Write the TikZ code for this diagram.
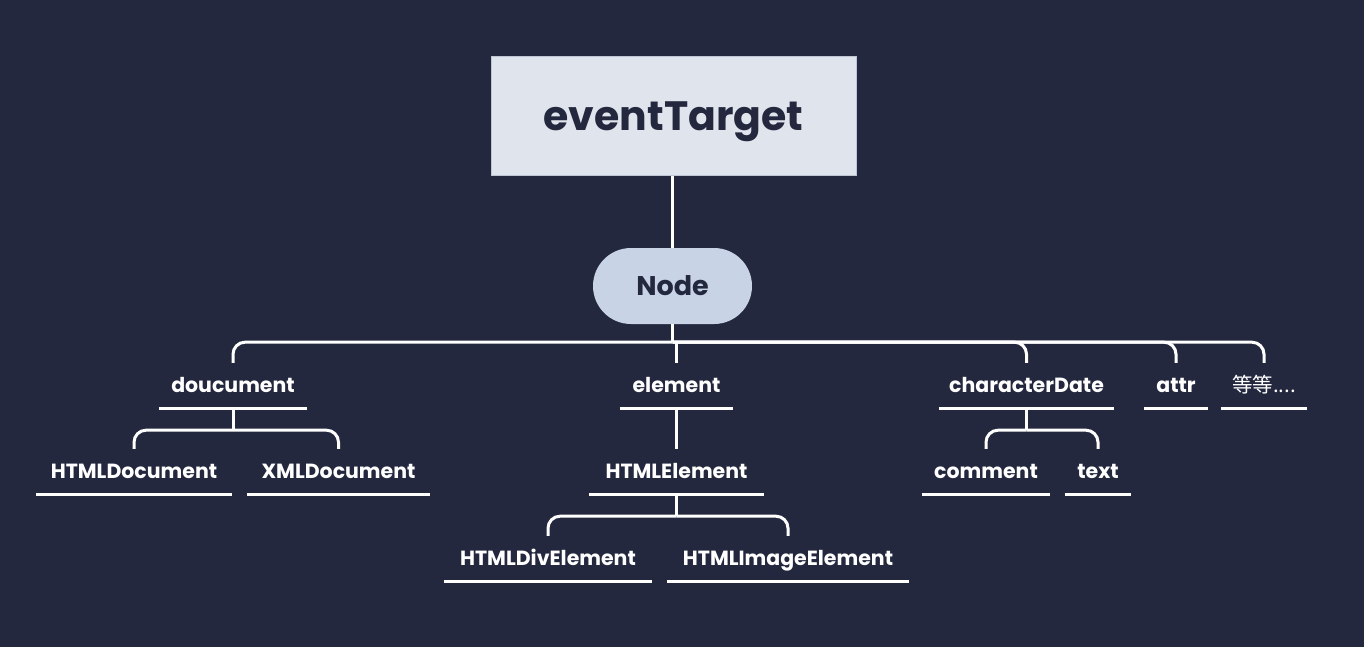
\documentclass[tikz,border=0pt]{standalone}
\usepackage{fontspec}
\setmainfont{Poppins}
\newfontfamily\cjk{Noto Sans CJK SC}
\definecolor{bg}{RGB}{35,40,62}
\definecolor{boxfill}{RGB}{224,229,237}
\definecolor{boxline}{RGB}{190,198,212}
\definecolor{pillfill}{RGB}{200,212,229}
\definecolor{ink}{RGB}{35,40,62}
\begin{document}
\begin{tikzpicture}[x=1pt,y=-1pt,
  conn/.style={draw=white,line width=3pt},
  bus/.style={draw=white,line width=3pt,rounded corners=12pt},
  lbl/.style={text=white,font=\fontsize{20.5}{24}\selectfont\bfseries,minimum height=45pt,inner sep=0pt,
     text height=16pt,text depth=2pt,
     append after command={\pgfextra{\draw[white,line width=3pt] (\tikzlastnode.south west) -- (\tikzlastnode.south east);}}},
]
\fill[bg] (0,0) rectangle (1364,647);
\useasboundingbox (0,0) rectangle (1364,647);

\node[fill=boxfill,draw=boxline,line width=1pt,minimum width=365pt,minimum height=119pt,inner sep=0pt,
  text height=29pt,text depth=0pt,
  text=ink,font=\fontsize{41}{48}\selectfont\bfseries] (et) at (673.5,116.5) {eventTarget};
\node[fill=pillfill,rounded corners=38pt,minimum width=159pt,minimum height=76pt,inner sep=0pt,
  text height=19pt,text depth=0pt,
  text=ink,font=\fontsize{27}{32}\selectfont\bfseries] (nd) at (672.5,286) {Node};

\node[lbl,minimum width=148pt] (doc) at (233,385.5) {doucument};
\node[lbl,minimum width=113pt] (el) at (676.5,385.5) {element};
\node[lbl,minimum width=175pt] (cd) at (1026.5,385.5) {characterDate};
\node[lbl,minimum width=64pt] (at) at (1176,385.5) {attr};
\node[lbl,minimum width=86pt,font=\fontsize{20.5}{24}\selectfont\cjk] (etc) at (1264,385.5) {等等....};

\node[lbl,minimum width=196pt] (hd) at (134,471.5) {HTMLDocument};
\node[lbl,minimum width=183pt] (xd) at (338.5,471.5) {XMLDocument};
\node[lbl,minimum width=175pt] (he) at (676.5,471.5) {HTMLElement};
\node[lbl,minimum width=128pt] (cm) at (986,471.5) {comment};
\node[lbl,minimum width=66pt] (tx) at (1098,471.5) {text};

\node[lbl,minimum width=208pt] (hdiv) at (548,558.5) {HTMLDivElement};
\node[lbl,minimum width=242pt] (himg) at (788,558.5) {HTMLImageElement};

% top connectors
\draw[conn] (nd.north |- et.south) -- (nd.north);
\coordinate (b0) at ([yshift=-18pt]nd.south);
\draw[conn] (nd.south) -- (b0);
\draw[bus] (b0) -| (doc.north);
\draw[bus] (b0) -| (cd.north);
\draw[bus] (b0) -| (at.north);
\draw[bus] (b0) -| (etc.north);
\draw[conn] (el.north) -- (el.north |- b0);

% doucument
\coordinate (b1) at ([yshift=-22pt]doc.south);
\draw[conn] (doc.south) -- (b1);
\draw[bus] (b1) -| (hd.north);
\draw[bus] (b1) -| (xd.north);

% element
\draw[conn] (el.south) -- (he.north);
\coordinate (b2) at ([yshift=-22pt]he.south);
\draw[conn] (he.south) -- (b2);
\draw[bus] (b2) -| (hdiv.north);
\draw[bus] (b2) -| (himg.north);

% characterDate
\coordinate (b3) at ([yshift=-22pt]cd.south);
\draw[conn] (cd.south) -- (b3);
\draw[bus] (b3) -| (cm.north);
\draw[bus] (b3) -| (tx.north);
\end{tikzpicture}
\end{document}
